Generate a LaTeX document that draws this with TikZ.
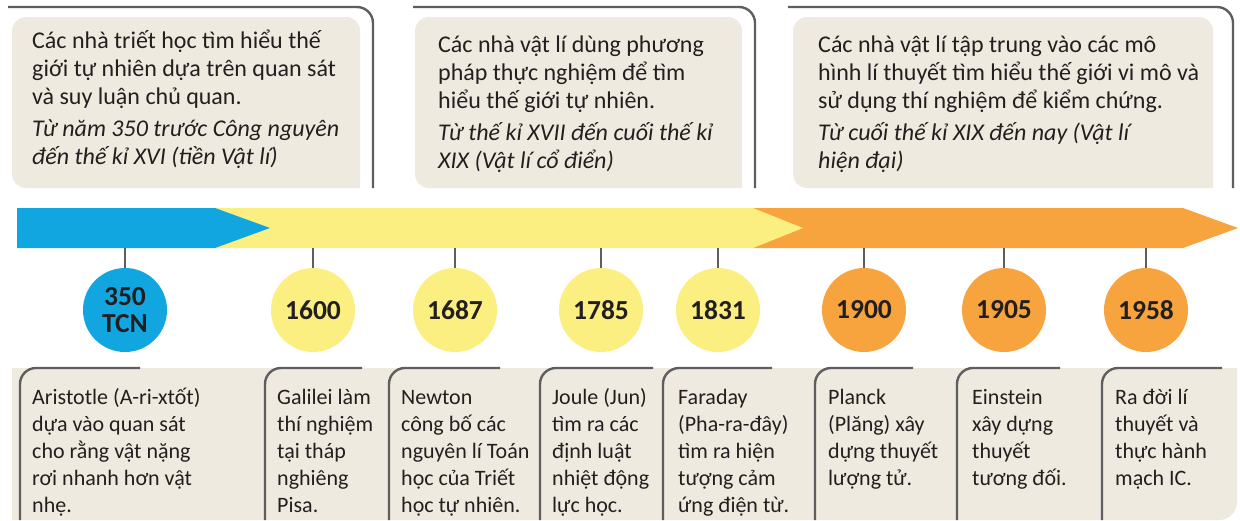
\documentclass[tikz,border=0pt]{standalone}
\usepackage{fontspec}
\setmainfont{Carlito}
\definecolor{cblue}{HTML}{12A6E0}
\definecolor{cyel}{HTML}{FCEF82}
\definecolor{corange}{HTML}{F7A33E}
\definecolor{cbeige}{HTML}{EEEADF}
\definecolor{cline}{HTML}{5E5E60}
\definecolor{ctext}{HTML}{231F20}
\newcommand{\mystrut}{\rule{0pt}{30pt}}
\tikzset{
  frameline/.style={draw=cline, line width=2.4pt, rounded corners=16pt},
  yearc/.style={circle, minimum size=84pt, inner sep=0pt, align=center, text=ctext,
    font=\fontsize{27.5}{27}\selectfont\bfseries},
  toptext/.style={anchor=north west, inner sep=0pt, align=left, text=ctext,
    font=\fontsize{24}{28}\selectfont},
  cardtext/.style={anchor=north west, inner sep=0pt, align=left, text=ctext,
    font=\fontsize{22}{27}\selectfont},
  tickline/.style={draw=cline, line width=2.4pt}
}
\begin{document}
\begin{tikzpicture}[x=1pt,y=-1pt]
\useasboundingbox (0,0) rectangle (1240,520);
\fill[white] (0,0) rectangle (1240,520);

% top beige panels
\fill[cbeige] (360,188) [rounded corners=14pt] -- (12,188) -- (12,17) -- (360,17) [sharp corners] -- cycle;
\fill[cbeige] (742,188) [rounded corners=14pt] -- (415,188) -- (415,17) -- (742,17) [sharp corners] -- cycle;
\fill[cbeige] (1213,188) [rounded corners=14pt] -- (793,188) -- (793,17) -- (1213,17) [sharp corners] -- cycle;
\draw[frameline] (8,7) -- (373,7) -- (373,188);
\draw[frameline] (413,7) -- (755,7) -- (755,188);
\draw[frameline] (788,7) -- (1233,7) -- (1233,188);

\node[toptext] (p1) at (32,18) {\mystrut Các nhà triết học tìm hiểu thế\\ giới tự nhiên dựa trên quan sát\\ và suy luận chủ quan.\\[4pt] \textit{Từ năm 350 trước Công nguyên}\\ \textit{đến thế kỉ XVI (tiền Vật lí)}};
\node[toptext] (p2) at (438,22) {\mystrut Các nhà vật lí dùng phương\\ pháp thực nghiệm để tìm\\ hiểu thế giới tự nhiên.\\[4pt] \textit{Từ thế kỉ XVII đến cuối thế kỉ}\\ \textit{XIX (Vật lí cổ điển)}};
\node[toptext] (p3) at (818,22) {\mystrut Các nhà vật lí tập trung vào các mô\\ hình lí thuyết tìm hiểu thế giới vi mô và\\ sử dụng thí nghiệm để kiểm chứng.\\[4pt] \textit{Từ cuối thế kỉ XIX đến nay (Vật lí}\\ \textit{hiện đại)}};

% timeline band
\fill[corange] (753,208) -- (1183,208) -- (1238,228) -- (1183,248) -- (753,248) -- cycle;
\fill[cyel] (215,208) -- (753,208) -- (803,228) -- (753,248) -- (215,248) -- cycle;
\fill[cblue] (17,208) -- (215,208) -- (270,228) -- (215,248) -- (17,248) -- cycle;

% year circles
\node[yearc, fill=cblue] (y1) at (125,310) {350\\TCN};
\node[yearc, fill=cyel] (y2) at (313,310) {1600};
\node[yearc, fill=cyel] (y3) at (455,310) {1687};
\node[yearc, fill=cyel] (y4) at (601,310) {1785};
\node[yearc, fill=cyel] (y5) at (718,310) {1831};
\node[yearc, fill=corange] (y6) at (864,310) {1900};
\node[yearc, fill=corange] (y7) at (1004,310) {1905};
\node[yearc, fill=corange] (y8) at (1146,310) {1958};
\foreach \i/\x in {1/125,2/313,3/455,4/601,5/718,6/864,7/1004,8/1146}{
  \coordinate (t\i) at (\x,248);
  \draw[tickline] (t\i) -- (y\i);
}

% bottom beige strip
\fill[cbeige] (12,368) -- (1237,368) [rounded corners=18pt] -- (1237,520) [sharp corners] -- (12,520) -- cycle;
\foreach \a/\b in {20/140,265/362,389/500,540/653,663/772,815/913,957/1060,1102/1222}{
  \draw[frameline] (\a,520) -- (\a,368) -- (\b,368);
}

\node[cardtext] (e1) at (32,374) {\mystrut Aristotle (A-ri-xtốt)\\ dựa vào quan sát\\ cho rằng vật nặng\\ rơi nhanh hơn vật\\ nhẹ.};
\node[cardtext] (e2) at (277,374) {\mystrut Galilei làm\\ thí nghiệm\\ tại tháp\\ nghiêng\\ Pisa.};
\node[cardtext] (e3) at (401,374) {\mystrut Newton\\ công bố các\\ nguyên lí Toán\\ học của Triết\\ học tự nhiên.};
\node[cardtext] (e4) at (552,374) {\mystrut Joule (Jun)\\ tìm ra các\\ định luật\\ nhiệt động\\ lực học.};
\node[cardtext] (e5) at (678,374) {\mystrut Faraday\\ (Pha-ra-đây)\\ tìm ra hiện\\ tượng cảm\\ ứng điện từ.};
\node[cardtext] (e6) at (828,374) {\mystrut Planck\\ (Plăng) xây\\ dựng thuyết\\ lượng tử.};
\node[cardtext] (e7) at (972,374) {\mystrut Einstein\\ xây dựng\\ thuyết\\ tương đối.};
\node[cardtext] (e8) at (1115,374) {\mystrut Ra đời lí\\ thuyết và\\ thực hành\\ mạch IC.};
\end{tikzpicture}
\end{document}
